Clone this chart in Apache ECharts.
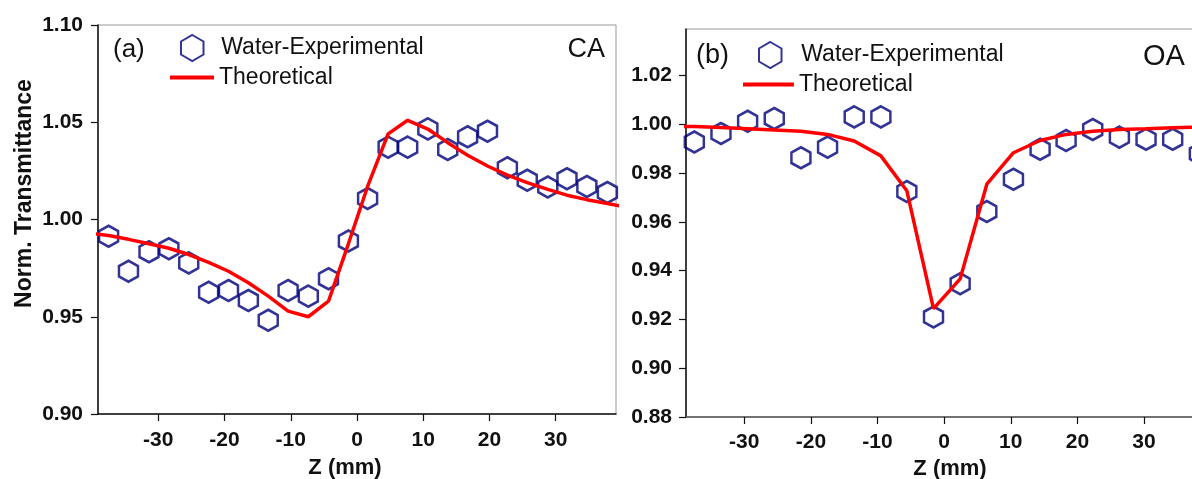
<!DOCTYPE html>
<html>
<head>
<meta charset="utf-8">
<script src="https://cdn.jsdelivr.net/npm/echarts@6/dist/echarts.min.js"></script>
<style>
  html, body { margin: 0; padding: 0; background: #fff; }
  #main { width: 1192px; height: 479px; }
</style>
</head>
<body>
<div id="main"></div>
<script>
// (a) closed aperture
const caZExp = [-37.5, -34.5, -31.4, -28.4, -25.4, -22.4, -19.4, -16.4, -13.4, -10.4, -7.35, -4.3, -1.3,
  1.6, 4.7, 7.65, 10.7, 13.7, 16.7, 19.7, 22.7, 25.7, 28.8, 31.7, 34.7, 37.8]
const caTExp = [0.9914, 0.9734, 0.9834, 0.985, 0.9777, 0.9626, 0.9635, 0.9584, 0.9482, 0.9635, 0.9606, 0.9695, 0.9889,
  1.0108, 1.0372, 1.0372, 1.0466, 1.036, 1.0425, 1.0454, 1.0266, 1.0202, 1.0167, 1.021, 1.017, 1.0139]
const caZFit = [-40.6, -37.5, -34.5, -31.4, -28.4, -25.4, -22.4, -19.4, -16.4, -13.4, -10.4, -7.35, -4.3, -1.3,
  1.6, 4.7, 7.65, 10.7, 13.7, 16.7, 19.7, 22.7, 25.7, 28.8, 31.7, 34.7, 37.8, 40.8]
const caTFit = [0.993, 0.9918, 0.9898, 0.9875, 0.9852, 0.982, 0.978, 0.9734, 0.9675, 0.9606, 0.9529, 0.95, 0.958, 0.9875,
  1.017, 1.044, 1.051, 1.0465, 1.0395, 1.033, 1.0275, 1.0228, 1.019, 1.0155, 1.0125, 1.0102, 1.0082, 1.0062]

// (b) open aperture
const oaZExp = [-37.5, -33.5, -29.5, -25.5, -21.5, -17.5, -13.5, -9.5, -5.6, -1.6,
  2.4, 6.4, 10.4, 14.4, 18.3, 22.3, 26.3, 30.3, 34.3, 38.3]
const oaTExp = [0.9927, 0.9962, 1.0012, 1.0023, 0.9862, 0.9906, 1.003, 1.003, 0.9724, 0.921,
  0.9346, 0.9642, 0.9774, 0.9897, 0.9933, 0.9978, 0.9947, 0.9938, 0.9938, 0.9879]
const oaZFit = [-41.5, -37.5, -33.5, -29.5, -25.5, -21.5, -17.5, -13.5, -9.5, -5.6, -1.6,
  2.4, 6.4, 10.4, 14.4, 18.3, 22.3, 26.3, 30.3, 34.3, 38.3, 42.3]
const oaTFit = [0.9992, 0.999, 0.9986, 0.9981, 0.9976, 0.9971, 0.9958, 0.9931, 0.987, 0.9727, 0.9244,
  0.9366, 0.9754, 0.9883, 0.9933, 0.9958, 0.9971, 0.9978, 0.9981, 0.9985, 0.9988, 0.999]

const zTicks = [-30, -20, -10, 0, 10, 20, 30]
const caTicks = [0.90, 0.95, 1.00, 1.05, 1.10]
const oaTicks = [0.88, 0.90, 0.92, 0.94, 0.96, 0.98, 1.00, 1.02]

const FONT = "'Liberation Sans', Arial, sans-serif"
const NAVY = '#00007a'
const RED = '#ff0000'
const hexagon = 'path://M0,-1 L0.866,-0.5 L0.866,0.5 L0,1 L-0.866,0.5 L-0.866,-0.5 Z'

const pairs = (xs, ys) => xs.map((x, i) => [x, ys[i]])

function xAxisOpt(grid, min, max, lineColor, namePad, nameGap, margin) {
  return {
    gridIndex: grid, type: 'value', min: min, max: max,
    name: 'Z (mm)', nameLocation: 'middle', nameGap: nameGap,
    nameTextStyle: { fontFamily: FONT, fontSize: 22, fontWeight: 'bold', color: '#111', padding: namePad },
    axisLine: { onZero: false, lineStyle: { color: lineColor, width: 1.5 } },
    axisTick: { customValues: zTicks, length: 7, lineStyle: { color: '#111', width: 1.2 } },
    axisLabel: { customValues: zTicks, fontFamily: FONT, fontSize: 21, fontWeight: 'bold', color: '#111', margin: margin },
    splitLine: { show: false }
  }
}

function yAxisOpt(grid, min, max, ticks, margin) {
  return {
    gridIndex: grid, type: 'value', min: min, max: max,
    axisLine: { show: true, onZero: false, lineStyle: { color: '#111', width: 1.5 } },
    axisTick: { show: true, customValues: ticks, length: 7, lineStyle: { color: '#111', width: 1.2 } },
    axisLabel: {
      customValues: ticks, fontFamily: FONT, fontSize: 21, fontWeight: 'bold', color: '#111', margin: margin,
      formatter: v => v.toFixed(2)
    },
    splitLine: { show: false }
  }
}

function legendOpt(name, left, top, icon, w, h) {
  return {
    data: [name], left: left, top: top, icon: icon, itemWidth: w, itemHeight: h,
    padding: 0, selectedMode: false,
    textStyle: { fontFamily: FONT, fontSize: 23, color: '#111' }
  }
}

function label(text, x, y, size, align) {
  return {
    type: 'text', x: x, y: y,
    style: { text: text, fontFamily: FONT, fontSize: size, fill: '#111', textAlign: align, textVerticalAlign: 'middle' }
  }
}

const yA = yAxisOpt(0, 0.90, 1.10, caTicks, 15)
yA.name = 'Norm. Transmittance'
yA.nameLocation = 'middle'
yA.nameGap = 62
yA.nameRotate = 90
yA.nameTextStyle = { fontFamily: FONT, fontSize: 23, fontWeight: 'bold', color: '#111', padding: [0, 0, 0, 52] }

const option = {
  animation: false,
  backgroundColor: '#fff',
  grid: [
    { left: 98, top: 25, width: 518, height: 389, show: true, borderColor: '#999', borderWidth: 1, outerBoundsMode: 'none' },
    { left: 686, top: 29, width: 518, height: 388, show: true, borderColor: '#999', borderWidth: 1, outerBoundsMode: 'none' }
  ],
  xAxis: [
    xAxisOpt(0, -39.1, 39.1, '#111', [0, 24, 0, 0], 43, 16),
    xAxisOpt(1, -38.75, 39, '#555', [0, 0, 0, 10], 41, 15)
  ],
  yAxis: [
    yA,
    yAxisOpt(1, 0.88, 1.039, oaTicks, 14)
  ],
  legend: [
    legendOpt('Water-Experimental', 180, 34, hexagon, 48, 26),
    legendOpt('Theoretical', 170, 66, 'rect', 44, 4),
    legendOpt('Water-Experimental', 758, 41, hexagon, 52, 26),
    legendOpt('Theoretical', 743, 73, 'rect', 51, 4)
  ],
  graphic: [
    label('(a)', 113, 50, 26, 'left'),
    label('CA', 605, 50, 27, 'right'),
    label('(b)', 696, 56, 27, 'left'),
    label('OA', 1143, 57, 29, 'left')
  ],
  series: [
    {
      name: 'Theoretical', type: 'line', xAxisIndex: 0, yAxisIndex: 0,
      data: pairs(caZFit, caTFit), showSymbol: false, clip: true,
      lineStyle: { color: RED, width: 3.5 }, itemStyle: { color: RED }
    },
    {
      name: 'Water-Experimental', type: 'scatter', xAxisIndex: 0, yAxisIndex: 0,
      data: pairs(caZExp, caTExp), symbol: hexagon, symbolSize: [19, 21],
      itemStyle: { color: 'transparent', borderColor: NAVY, borderWidth: 2.6 }
    },
    {
      name: 'Theoretical', type: 'line', xAxisIndex: 1, yAxisIndex: 1,
      data: pairs(oaZFit, oaTFit), showSymbol: false, clip: true,
      lineStyle: { color: RED, width: 3.5 }, itemStyle: { color: RED }
    },
    {
      name: 'Water-Experimental', type: 'scatter', xAxisIndex: 1, yAxisIndex: 1,
      data: pairs(oaZExp, oaTExp), symbol: hexagon, symbolSize: [19, 21],
      itemStyle: { color: 'transparent', borderColor: NAVY, borderWidth: 2.6 }
    }
  ]
}

const chart = echarts.init(document.getElementById('main'))
chart.setOption(option)
</script>
</body>
</html>
